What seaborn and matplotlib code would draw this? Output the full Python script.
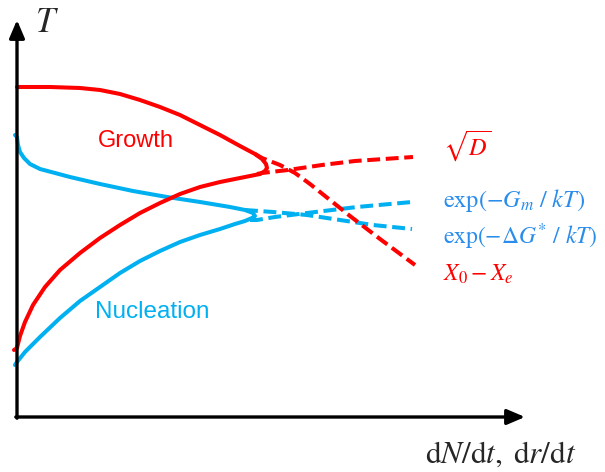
"""
Schematic of nucleation and growth rates against temperature.
Curve points read off the reference sketch (x = rate, T = temperature).
"""

import matplotlib
matplotlib.use("Agg")
import matplotlib.pyplot as plt
import seaborn as sns

sns.set_theme(style="white")
plt.rcParams["mathtext.fontset"] = "stix"
plt.rcParams["font.family"] = ["Liberation Sans", "DejaVu Sans"]

RED = "#FF0000"
CYAN = "#00B0F0"
LABEL_BLUE = "#2A8DEB"

# growth rate, solid loop (upper branch, tip, lower branch)
growth_x = [0, 33, 63, 83, 103, 123, 143, 163, 183, 203, 223, 238, 245, 249,
            250, 248, 243, 223, 203, 183, 163, 143, 123, 103, 83, 63, 43, 28,
            16, 8, 3, 0, -3]
growth_T = [330, 330, 329, 327, 323, 317, 310, 302, 292, 282, 271, 263, 258,
            253, 249, 246, 243, 239, 235, 230, 223, 214, 204, 192, 179, 164,
            147, 130, 112, 95, 81, 69, 67]

# nucleation rate, solid loop
nucl_x = [-2, 0, 1, 3, 7, 13, 23, 38, 53, 83, 116, 150, 183, 213, 228, 236,
          238, 235, 228, 218, 203, 183, 163, 143, 123, 103, 83, 63, 43, 23, 8,
          0, -2]
nucl_T = [282, 280, 272, 265, 259, 253, 248, 244, 240, 233, 226, 220, 215,
          210, 207, 204, 201, 199, 196, 193, 188, 182, 175, 166, 156, 144,
          130, 116, 99, 80, 65, 55, 52]

# dashed limiting factors
sqrtD_x = [240, 245, 271, 305, 338, 396]
sqrtD_T = [243, 244, 247, 252, 256, 260]
x0xe_x = [238, 245, 263, 278, 293, 308, 333, 363, 398]
x0xe_T = [263, 259, 252, 244, 233, 221, 201, 178, 152]
gm_x = [233, 240, 258, 290, 340, 395]
gm_T = [197, 197, 200, 204, 210, 215]
dg_x = [228, 256, 290, 323, 356, 395]
dg_T = [207, 205, 202, 197, 192, 188]

fig = plt.figure(figsize=(6.05, 4.72), dpi=100)
ax = fig.add_axes([0, 0, 1, 1])

dash = (0, (3.2, 1.4))
line_kw = dict(sort=False, estimator=None, lw=2.9, ax=ax)
sns.lineplot(x=gm_x, y=gm_T, color=CYAN, linestyle=dash, **line_kw)
sns.lineplot(x=dg_x, y=dg_T, color=CYAN, linestyle=dash, **line_kw)
sns.lineplot(x=nucl_x, y=nucl_T, color=CYAN, solid_joinstyle="round",
             **line_kw)
sns.lineplot(x=sqrtD_x, y=sqrtD_T, color=RED, linestyle=dash, **line_kw)
sns.lineplot(x=x0xe_x, y=x0xe_T, color=RED, linestyle=dash, **line_kw)
sns.lineplot(x=growth_x, y=growth_T, color=RED, solid_joinstyle="round",
             **line_kw)

# axes drawn as arrows from the origin
arrow = dict(arrowstyle="-|>,head_length=0.54,head_width=0.23",
             mutation_scale=20, lw=2.4, color="black",
             shrinkA=0, shrinkB=0)
ax.annotate("", xy=(0, 397), xytext=(0, -1.2), arrowprops=arrow)
ax.annotate("", xy=(508, 0), xytext=(-1.2, 0), arrowprops=arrow)

ax.text(30, 395, r"$T$", fontsize=25, ha="center", va="center")
ax.text(408, -38, r"$\mathrm{d}N/\mathrm{d}t,\;\mathrm{d}r/\mathrm{d}t$",
        fontsize=22.5, ha="left", va="center")

ax.text(119, 276, "Growth", color=RED, fontsize=17, ha="center",
        va="center")
ax.text(135, 105, "Nucleation", color=CYAN, fontsize=17.5, ha="center",
        va="center")

ax.text(426, 271, r"$\sqrt{D}$", color=RED, fontsize=17.5, ha="left",
        va="center")
ax.text(426, 216, r"$\exp(-G_m\ /\ kT)$", color=LABEL_BLUE, fontsize=17.5,
        ha="left", va="center")
ax.text(426, 180, r"$\exp(-\Delta G^{*}\ /\ kT)$", color=LABEL_BLUE,
        fontsize=17, ha="left", va="center")
ax.text(426, 143, r"$X_0-X_e$", color=RED, fontsize=17, ha="left",
        va="center")

ax.set_xlim(-17, 588)
ax.set_ylim(-55, 417)
ax.axis("off")

fig.savefig("out.png", dpi=100)
